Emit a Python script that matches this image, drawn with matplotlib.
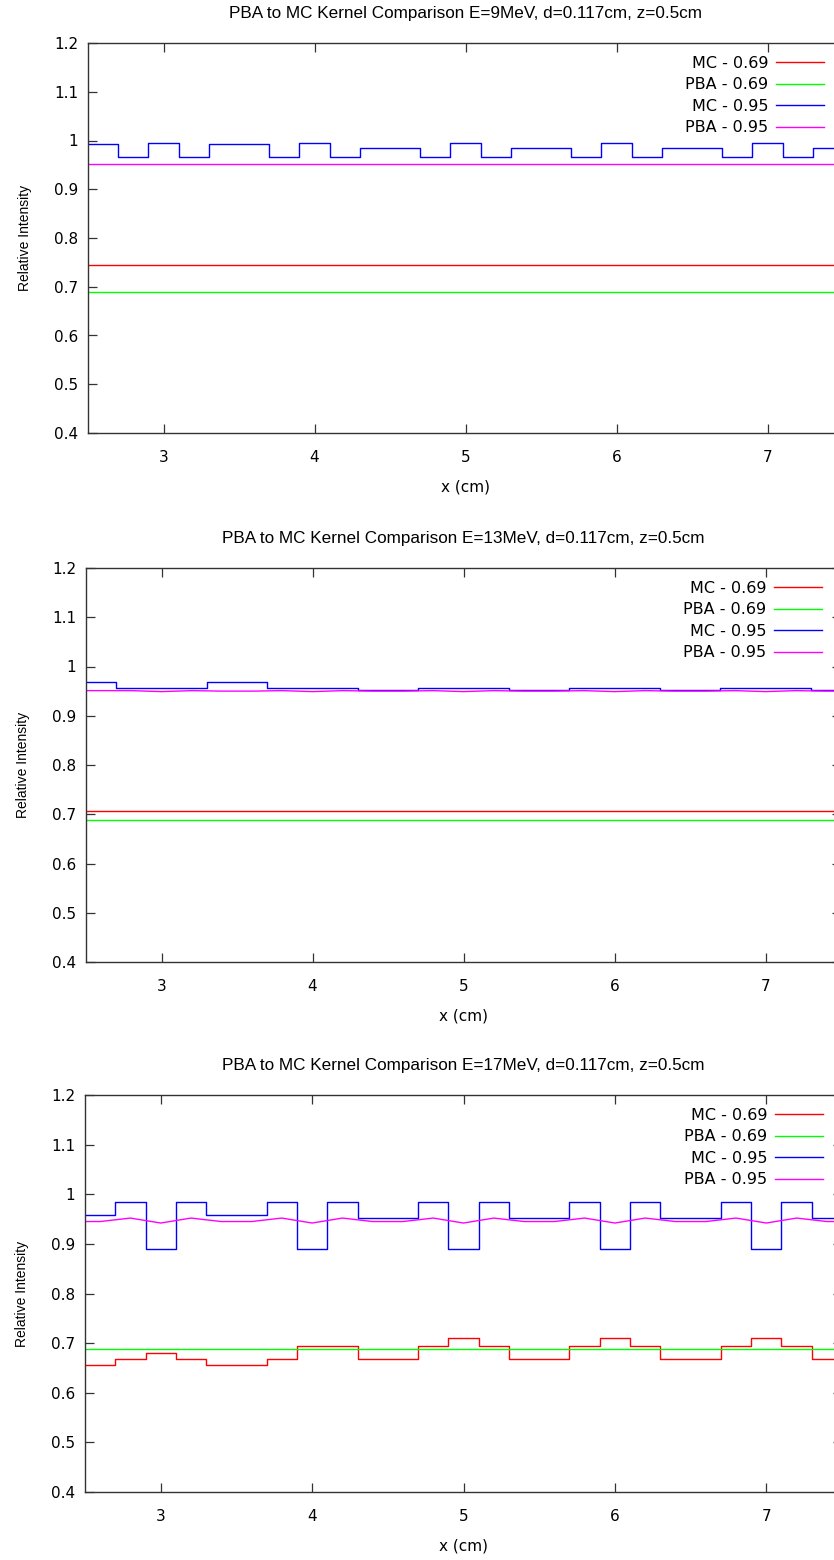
import matplotlib
matplotlib.use("Agg")
import matplotlib.pyplot as plt
from matplotlib.ticker import MultipleLocator, FuncFormatter

# Bords des bins MC (cm) et points PBA
x_edges = [2.5, 2.7, 2.9, 3.1, 3.3, 3.5, 3.7, 3.9, 4.1, 4.3, 4.5, 4.7, 4.9,
           5.1, 5.3, 5.5, 5.7, 5.9, 6.1, 6.3, 6.5, 6.7, 6.9, 7.1, 7.3, 7.5]
x_pba = [2.5, 2.6, 2.8, 3.0, 3.2, 3.4, 3.6, 3.8, 4.0, 4.2, 4.4, 4.6, 4.8, 5.0,
         5.2, 5.4, 5.6, 5.8, 6.0, 6.2, 6.4, 6.6, 6.8, 7.0, 7.2, 7.4, 7.5]

# E = 9 MeV
mc069_9 = [0.744] * 25
pba069_9 = [0.689] * 27
mc095_9 = [0.992, 0.966, 0.995, 0.966, 0.992, 0.992, 0.966, 0.995, 0.966, 0.985,
           0.985, 0.966, 0.995, 0.966, 0.985, 0.985, 0.966, 0.995, 0.966, 0.985,
           0.985, 0.966, 0.995, 0.966, 0.985]
pba095_9 = [0.952] * 27

# E = 13 MeV
mc069_13 = [0.707] * 25
pba069_13 = [0.689] * 27
mc095_13 = [0.968, 0.956, 0.956, 0.956, 0.968, 0.968, 0.956, 0.956, 0.956, 0.953,
            0.953, 0.956, 0.956, 0.956, 0.953, 0.953, 0.956, 0.956, 0.956, 0.953,
            0.953, 0.956, 0.956, 0.956, 0.953]
pba095_13 = [0.951, 0.951, 0.951, 0.949, 0.951, 0.950, 0.950, 0.951, 0.949, 0.951,
             0.950, 0.950, 0.951, 0.949, 0.951, 0.950, 0.950, 0.951, 0.949, 0.951,
             0.950, 0.950, 0.951, 0.949, 0.951, 0.950, 0.950]

# E = 17 MeV
mc069_17 = [0.655, 0.669, 0.680, 0.669, 0.655, 0.655, 0.669, 0.695, 0.695, 0.669,
            0.669, 0.695, 0.710, 0.695, 0.669, 0.669, 0.695, 0.710, 0.695, 0.669,
            0.669, 0.695, 0.710, 0.695, 0.669]
pba069_17 = [0.689] * 27
mc095_17 = [0.958, 0.985, 0.889, 0.985, 0.958, 0.958, 0.985, 0.889, 0.985, 0.952,
            0.952, 0.985, 0.889, 0.985, 0.952, 0.952, 0.985, 0.889, 0.985, 0.952,
            0.952, 0.985, 0.889, 0.985, 0.952]
pba095_17 = [0.945, 0.945, 0.952, 0.942, 0.952, 0.945, 0.945, 0.952, 0.942, 0.952,
             0.945, 0.945, 0.952, 0.942, 0.952, 0.945, 0.945, 0.952, 0.942, 0.952,
             0.945, 0.945, 0.952, 0.942, 0.952, 0.945, 0.945]

energies = ["9", "13", "17"]
series = [
    (mc069_9, pba069_9, mc095_9, pba095_9),
    (mc069_13, pba069_13, mc095_13, pba095_13),
    (mc069_17, pba069_17, mc095_17, pba095_17),
]

W, H = 834, 1560
# (gauche, droite, haut, bas) en pixels ; l'axe dépasse à droite comme dans l'original
cadres = [(88, 843, 43, 433), (86, 841, 568, 962), (85, 842, 1095, 1492)]

fig = plt.figure(figsize=(W / 100, H / 100), dpi=100)

for (g, d, h, b), e, (mc069, pba069, mc095, pba095) in zip(cadres, energies, series):
    ax = fig.add_axes([g / W, 1 - b / H, (d - g) / W, (b - h) / H])

    ax.step(x_edges, mc069 + mc069[-1:], where="post", color="#ff0000", lw=1.0, label="MC - 0.69")
    ax.plot(x_pba, pba069, color="#00ff00", lw=1.0, label="PBA - 0.69")
    ax.step(x_edges, mc095 + mc095[-1:], where="post", color="#0000ff", lw=1.0, label="MC - 0.95")
    ax.plot(x_pba, pba095, color="#ff00ff", lw=1.0, label="PBA - 0.95")

    ax.set_xlim(2.5, 7.5)
    ax.set_ylim(0.4, 1.2)
    ax.xaxis.set_major_locator(MultipleLocator(1))
    ax.yaxis.set_major_locator(MultipleLocator(0.1))
    ax.yaxis.set_major_formatter(FuncFormatter(lambda v, p: f"{v:g}"))

    ax.tick_params(direction="in", top=True, right=True, length=6.5, width=0.9,
                   color="#333333", labelsize=11)
    ax.tick_params(axis="x", pad=12)
    ax.tick_params(axis="y", pad=7)
    for s in ax.spines.values():
        s.set_color("#333333")
        s.set_linewidth(1.0)

    ax.set_title(f"PBA to MC Kernel Comparison E={e}MeV, d=0.117cm, z=0.5cm",
                 family="Liberation Sans", fontsize=12.3, pad=18)
    ax.set_xlabel("x (cm)", fontsize=11, labelpad=11)
    ax.set_ylabel("Relative Intensity", family="Liberation Sans", fontsize=10, labelpad=16)

    ax.legend(loc="upper right", bbox_to_anchor=(1 - 19 / (d - g), 1 - 13 / (b - h)),
              frameon=False, markerfirst=False, fontsize=11.5, borderaxespad=0,
              borderpad=0, handlelength=3.0, handletextpad=0.5, labelspacing=0.4)

fig.savefig("out.png", dpi=100)
